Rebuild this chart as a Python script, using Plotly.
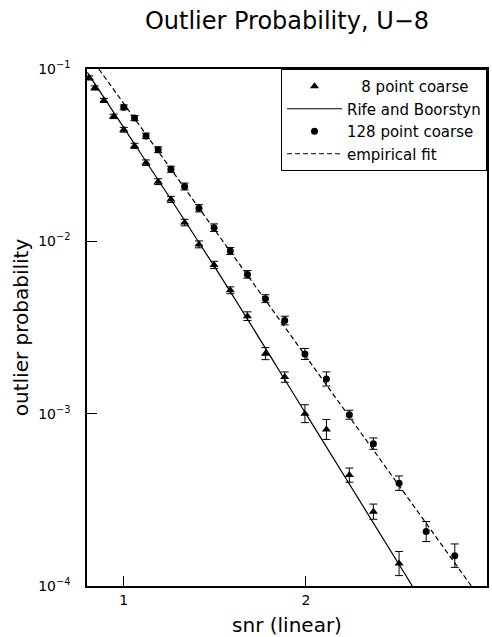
import plotly.graph_objects as go

# ---- data ----
snr_8pt = [0.81, 0.841, 0.891, 0.944, 1.0, 1.059, 1.122, 1.189, 1.259, 1.334, 1.413,
           1.496, 1.585, 1.679, 1.778, 1.884, 1.995, 2.113, 2.239, 2.371, 2.512]
p_8pt = [0.0887, 0.0776, 0.0657, 0.0531, 0.0444, 0.0358, 0.0286, 0.0222, 0.0175,
         0.01285, 0.0096, 0.0073, 0.0052, 0.00368, 0.00223, 0.00163, 0.00100,
         0.00081, 0.00044, 0.00027, 0.000135]
# error half-widths in decades (log10 units)
err_8pt = [0.012, 0.012, 0.012, 0.013, 0.014, 0.015, 0.016, 0.017, 0.018, 0.019, 0.02,
           0.021, 0.02, 0.025, 0.035, 0.03, 0.052, 0.058, 0.041, 0.044, 0.07]

snr_128pt = [1.0, 1.059, 1.122, 1.189, 1.259, 1.334, 1.413, 1.496, 1.585, 1.679,
             1.778, 1.884, 1.995, 2.113, 2.239, 2.371, 2.512, 2.661, 2.818]
p_128pt = [0.0599, 0.0519, 0.0409, 0.034, 0.0262, 0.0208, 0.01555, 0.0120, 0.00879,
           0.00643, 0.00465, 0.00347, 0.00222, 0.00159, 0.000986, 0.00067, 0.000395,
           0.000207, 0.00015]
err_128pt = [0.014, 0.015, 0.016, 0.017, 0.018, 0.02, 0.021, 0.022, 0.02, 0.022,
             0.023, 0.025, 0.032, 0.041, 0.026, 0.033, 0.042, 0.058, 0.068]

snr_theory = [0.80, 1.0, 1.5, 2.0, 2.585]
p_theory = [0.0955, 0.0457, 0.00708, 0.001, 0.0001]

snr_fit = [0.863, 2.909]
p_fit = [0.1, 0.0001]

x_ticks = [1, 2, 3]
y_exponents = [-4, -3, -2, -1]


def err_plus(p, e):
    return [v * (10 ** d - 1) for v, d in zip(p, e)]


def err_minus(p, e):
    return [v * (1 - 10 ** (-d)) for v, d in zip(p, e)]


FONT = "DejaVu Sans"
fig = go.Figure()

fig.add_trace(go.Scatter(
    x=snr_8pt, y=p_8pt, mode="markers", name="\u00a0\u00a0\u00a08 point coarse",
    marker=dict(symbol="triangle-up", size=8, color="black"),
    error_y=dict(type="data", symmetric=False, array=err_plus(p_8pt, err_8pt),
                 arrayminus=err_minus(p_8pt, err_8pt), color="black",
                 thickness=1, width=4),
))
fig.add_trace(go.Scatter(
    x=snr_theory, y=p_theory, mode="lines", name="Rife and Boorstyn",
    line=dict(color="black", width=1.2, shape="spline"),
))
fig.add_trace(go.Scatter(
    x=snr_128pt, y=p_128pt, mode="markers", name="128 point coarse",
    marker=dict(symbol="circle", size=7, color="black"),
    error_y=dict(type="data", symmetric=False, array=err_plus(p_128pt, err_128pt),
                 arrayminus=err_minus(p_128pt, err_128pt), color="black",
                 thickness=1, width=4),
))
fig.add_trace(go.Scatter(
    x=snr_fit, y=p_fit, mode="lines", name="empirical fit",
    line=dict(color="black", width=1.2, dash="5px,3px"),
))

fig.update_layout(
    width=492, height=637,
    margin=dict(l=87, r=3, t=69, b=51),
    paper_bgcolor="white", plot_bgcolor="white",
    font=dict(family=FONT, color="black", size=14),
    title=dict(text="Outlier Probability, U\u22128", x=0.5, xref="paper",
               y=1 - 21 / 637, yref="container", yanchor="middle",
               font=dict(size=24, family=FONT, color="black")),
    showlegend=True,
    legend=dict(x=1.0, y=1.0, xanchor="right", yanchor="top",
                bgcolor="white", bordercolor="black", borderwidth=1,
                font=dict(size=15, family=FONT, color="black"),
                itemwidth=55, tracegroupgap=0),
)

fig.update_xaxes(
    range=[0.798, 2.995], tickvals=x_ticks, ticktext=[str(v) for v in x_ticks],
    ticks="inside", ticklen=10, tickwidth=1, tickcolor="black",
    showline=True, linecolor="black", linewidth=1.5, mirror=True,
    showgrid=False, zeroline=False,
    tickfont=dict(size=14, family=FONT),
    title=dict(text="snr (linear)", font=dict(size=20, family=FONT), standoff=11),
)
fig.update_yaxes(
    type="log", range=[-4, -1], tickvals=[10.0 ** e for e in y_exponents],
    ticktext=["10<sup>\u2212%d</sup>" % (-e) for e in y_exponents],
    ticks="inside", ticklen=10, tickwidth=1, tickcolor="black",
    showline=True, linecolor="black", linewidth=1.5, mirror=True,
    showgrid=False, zeroline=False, ticklabelstandoff=12,
    tickfont=dict(size=14, family=FONT),
    title=dict(text="outlier probability", font=dict(size=20, family=FONT), standoff=4),
)

fig.write_html(
    "out.html",
    config={"displayModeBar": False},
    post_script="document.body.style.margin='0';document.body.style.overflow='hidden';",
)
